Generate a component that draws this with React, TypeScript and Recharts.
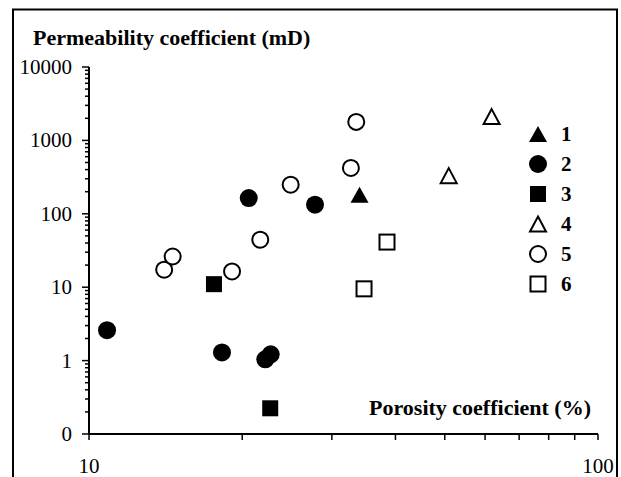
import React from "react";
import { ScatterChart, Scatter, XAxis, YAxis, Legend } from "recharts";

// series names (legend labels)
const seriesNames = ["1", "2", "3", "4", "5", "6"];
const seriesShapes = ["triangle", "circle", "square", "triangle", "circle", "square"];
const seriesFilled = [true, true, true, false, false, false];

// porosity (%) / permeability (mD)
const porosity1 = [34.0];
const perm1 = [182];

const porosity2 = [10.85, 20.6, 27.8, 18.25, 22.2, 22.75];
const perm2 = [2.6, 164, 133, 1.29, 1.04, 1.22];

const porosity3 = [17.6, 22.7];
const perm3 = [11.0, 0.224];

const porosity4 = [50.9, 61.8];
const perm4 = [331, 2110];

const porosity5 = [14.05, 14.6, 19.1, 21.7, 24.9, 33.5, 32.7];
const perm5 = [17.3, 26.2, 16.4, 44.4, 249, 1787, 421];

const porosity6 = [38.5, 34.7];
const perm6 = [41.2, 9.5];

const porosityLists = [porosity1, porosity2, porosity3, porosity4, porosity5, porosity6];
const permLists = [perm1, perm2, perm3, perm4, perm5, perm6];

// axis ticks
const xMajor = [10, 100];
const yMajor = [0.1, 1, 10, 100, 1000, 10000];
const yMajorLabels = ["0", "1", "10", "100", "1000", "10000"];
const minorSteps = [1, 2, 3, 4, 5, 6, 7, 8, 9];

const xTicks = [...minorSteps.map((m) => m * 10), 100];
const yTicks = [
  ...[0.1, 1, 10, 100, 1000].flatMap((d) => minorSteps.map((m) => +(m * d).toPrecision(3))),
  10000,
];

const FONT = "Liberation Serif";

function Marker({ shape, filled, cx, cy }: { shape: string; filled: boolean; cx: number; cy: number }) {
  const fill = filled ? "#000" : "#fff";
  const stroke = "#000";
  const sw = filled ? 0 : 2;
  if (shape === "circle") {
    const r = filled ? 9 : 8;
    return <circle cx={cx} cy={cy} r={r} fill={fill} stroke={stroke} strokeWidth={sw} />;
  }
  if (shape === "square") {
    const s = filled ? 16 : 15;
    return <rect x={cx - s / 2} y={cy - s / 2} width={s} height={s} fill={fill} stroke={stroke} strokeWidth={sw} />;
  }
  const w = filled ? 18 : 16;
  const h = filled ? 16 : 15;
  const pts = `${cx},${cy - h / 2} ${cx + w / 2},${cy + h / 2} ${cx - w / 2},${cy + h / 2}`;
  return <polygon points={pts} fill={fill} stroke={stroke} strokeWidth={sw} strokeLinejoin="miter" />;
}

function YTick(props: any) {
  const { x, y, payload } = props;
  const idx = yMajor.findIndex((v) => Math.abs(v - payload.value) < 1e-9);
  const major = idx >= 0;
  const len = major ? 7 : 4;
  return (
    <g>
      <line x1={x - len} x2={x} y1={y} y2={y} stroke="#000" strokeWidth={1.5} />
      {major && (
        <text x={x - 17} y={y + 7} textAnchor="end" fontFamily={FONT} fontSize={21} fill="#000">
          {yMajorLabels[idx]}
        </text>
      )}
    </g>
  );
}

function XTick(props: any) {
  const { x, y, payload } = props;
  const major = xMajor.includes(payload.value);
  return (
    <g>
      <line x1={x} x2={x} y1={y} y2={y + 6} stroke="#000" strokeWidth={1.5} />
      {major && (
        <text x={x} y={y + 39} textAnchor="middle" fontFamily={FONT} fontSize={21} fill="#000">
          {payload.value}
        </text>
      )}
    </g>
  );
}

function LegendContent(props: any) {
  const payload = props.payload || [];
  return (
    <div style={{ fontFamily: FONT }}>
      {payload.map((entry: any) => {
        const i = seriesNames.indexOf(String(entry.value));
        return (
          <div key={entry.value} style={{ display: "flex", alignItems: "center", height: 30 }}>
            <svg width={22} height={22} style={{ overflow: "visible" }}>
              <Marker shape={seriesShapes[i]} filled={seriesFilled[i]} cx={11} cy={11} />
            </svg>
            <span style={{ marginLeft: 12, fontSize: 21, fontWeight: "bold", lineHeight: "30px" }}>{entry.value}</span>
          </div>
        );
      })}
    </div>
  );
}

export default function App() {
  const series = seriesNames.map((name, i) => ({
    name,
    data: porosityLists[i].map((p, j) => ({ porosity: p, perm: permLists[i][j] })),
  }));

  return (
    <div style={{ position: "fixed", left: 0, top: 0, width: 621, height: 477, overflow: "hidden", background: "#fff" }}>
      <ScatterChart width={621} height={477} margin={{ top: 67, right: 23, bottom: 3, left: 28 }}>
        <XAxis
          type="number"
          dataKey="porosity"
          scale="log"
          domain={[10, 100]}
          allowDataOverflow
          ticks={xTicks}
          interval={0}
          tick={<XTick />}
          tickLine={false}
          tickSize={0}
          tickMargin={0}
          height={40}
          axisLine={{ stroke: "#000", strokeWidth: 2 }}
        />
        <YAxis
          type="number"
          dataKey="perm"
          scale="log"
          domain={[0.1, 10000]}
          allowDataOverflow
          ticks={yTicks}
          interval={0}
          tick={<YTick />}
          tickLine={false}
          tickSize={0}
          tickMargin={0}
          width={61}
          axisLine={{ stroke: "#000", strokeWidth: 2 }}
        />
        <Legend
          layout="vertical"
          align="center"
          verticalAlign="middle"
          content={<LegendContent />}
          wrapperStyle={{ left: 527, top: 119, width: 70 }}
        />
        {series.map((s, i) => (
          <Scatter
            key={s.name}
            name={s.name}
            data={s.data}
            fill="#000"
            isAnimationActive={false}
            shape={(p: any) => <Marker shape={seriesShapes[i]} filled={seriesFilled[i]} cx={p.cx} cy={p.cy} />}
          />
        ))}
      </ScatterChart>
      <svg width={621} height={477} style={{ position: "absolute", left: 0, top: 0, pointerEvents: "none" }}>
        <rect x={13} y={9.5} width={604} height={500} fill="none" stroke="#000" strokeWidth={2} />
        <text x={33} y={45} fontFamily={FONT} fontSize={22} fontWeight="bold" fill="#000">
          Permeability coefficient (mD)
        </text>
        <text x={591} y={415} textAnchor="end" fontFamily={FONT} fontSize={22} fontWeight="bold" fill="#000">
          Porosity coefficient (%)
        </text>
      </svg>
    </div>
  );
}
